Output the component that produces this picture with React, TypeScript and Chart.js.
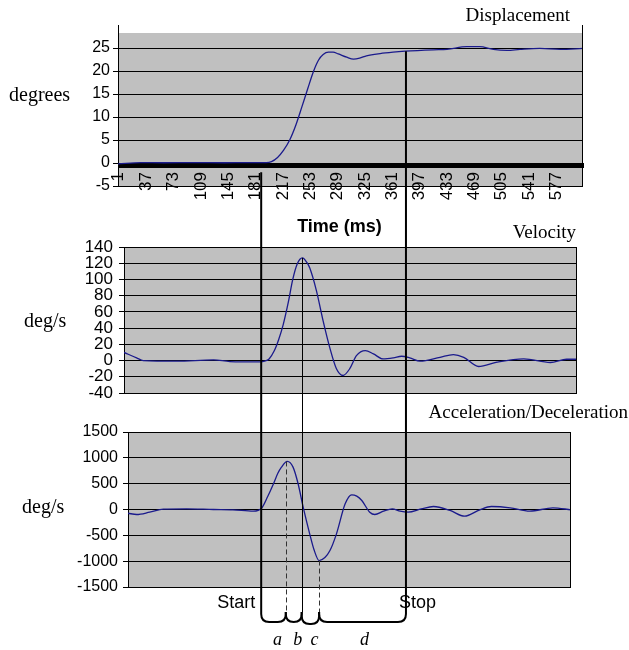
import React, { useEffect, useRef } from 'react';
import { Chart, registerables } from 'chart.js';
Chart.register(...registerables);

// ---------- data (x = sample index, ms) ----------
const dispT = [0, 30, 60, 100, 140, 170, 195, 202, 210, 218, 226, 234, 242, 250, 257, 264, 270, 277, 283, 290, 301, 310, 318, 327, 345, 362, 378, 415, 433, 459, 476, 494, 512, 529, 555, 582, 612];
const dispV = [-0.2, 0.1, 0.05, 0.1, 0.05, 0.1, 0.1, 0.3, 1.2, 2.8, 5.0, 8.2, 12.2, 16.3, 19.8, 22.4, 23.6, 24.1, 24.1, 23.7, 23.0, 22.6, 22.8, 23.3, 23.8, 24.1, 24.3, 24.6, 24.7, 25.3, 25.3, 24.7, 24.5, 24.7, 24.9, 24.7, 24.9];

const velT = [0, 17, 26, 71, 121, 143, 184, 190, 196, 203, 209, 215, 222, 228, 234, 241, 247, 251, 260, 269, 278, 287, 296, 305, 314, 326, 337, 350, 364, 375, 386, 400, 427, 445, 459, 479, 504, 540, 576, 598, 612];
const velV = [10, 3.3, 0, -0.8, 0.8, -1.2, -1.6, -0.8, 2, 12, 26, 44, 72, 100, 119, 126.5, 121, 114, 86, 49, 16, -10, -18.4, -10, 6, 12.2, 8.2, 2, 3.3, 5.3, 3.3, -0.8, 4, 7.3, 4, -7.3, -2, 2, -2.4, 1.6, 1.6];

const accT = [0, 12, 30, 49, 81, 118, 145, 173, 185, 193, 201, 207, 212, 220, 228, 235, 242, 251, 257, 264, 272, 279, 288, 300, 309, 316, 323, 334, 341, 353, 365, 376, 387, 405, 422, 445, 465, 486, 502, 528, 555, 587, 612];
const accV = [-72, -97, -52, 6, 13, 0, -6, -33, 33, 250, 498, 700, 820, 930, 820, 498, 45, -471, -780, -988, -930, -795, -471, 110, 285, 260, 174, -52, -97, -33, 13, -33, -52, 10, 58, -19, -130, -6, 58, 33, -33, 33, -6];

const X_MAX = 612;
const xLabels = [1, 37, 73, 109, 145, 181, 217, 253, 289, 325, 361, 397, 433, 469, 505, 541, 577];
const dispTicks = [-5, 0, 5, 10, 15, 20, 25];
const velTicks = [-40, -20, 0, 20, 40, 60, 80, 100, 120, 140];
const accTicks = [-1500, -1000, -500, 0, 500, 1000, 1500];

// event markers (sample index)
const EV_START = 184;
const EV_A = 218;
const EV_B = 240;
const EV_C = 264;
const EV_STOP = 384;
const segLabels = ['a', 'b', 'c', 'd'];

// ---------- helpers ----------
const W = 629;
const H = 650;
const GRAY = '#c0c0c0';
const LINE = '#1a1a8c';
const SANS = '"Liberation Sans", Arial, sans-serif';
const SERIF = '"Liberation Serif", "Times New Roman", serif';

const pts = (t: number[], v: number[]) => t.map((x, i) => ({ x, y: v[i] }));

type Txt = { t: string; x: number; y: number; font: string; align: CanvasTextAlign };

const bgPlugin = (topInset: number) => ({
  id: 'bg',
  beforeDraw(chart: any) {
    const { ctx, chartArea: a } = chart;
    ctx.save();
    ctx.fillStyle = GRAY;
    ctx.fillRect(a.left, a.top + topInset, a.right - a.left, a.bottom - a.top - topInset);
    ctx.restore();
  },
  afterDraw(chart: any) {
    const { ctx, chartArea: a } = chart;
    ctx.save();
    ctx.strokeStyle = '#000';
    ctx.lineWidth = 1;
    ctx.beginPath();
    ctx.moveTo(Math.round(a.right) - 0.5, a.top);
    ctx.lineTo(Math.round(a.right) - 0.5, a.bottom);
    ctx.stroke();
    ctx.restore();
  },
});

const textPlugin = (getTexts: (chart: any) => Txt[]) => ({
  id: 'texts',
  afterDraw(chart: any) {
    const ctx = chart.ctx;
    ctx.save();
    ctx.fillStyle = '#000';
    ctx.textBaseline = 'middle';
    for (const tx of getTexts(chart)) {
      ctx.font = tx.font;
      ctx.textAlign = tx.align;
      ctx.fillText(tx.t, tx.x, tx.y);
    }
    ctx.restore();
  },
});

const yAxis = (min: number, max: number, ticks: number[], width: number, size: number, padding: number) => ({
  type: 'linear',
  min,
  max,
  afterBuildTicks: (s: any) => {
    s.ticks = ticks.map((value) => ({ value }));
  },
  afterFit: (s: any) => {
    s.width = width;
  },
  grid: { color: '#000', lineWidth: 1, tickLength: 5, drawTicks: true },
  border: { display: true, color: '#000', width: 1 },
  ticks: {
    autoSkip: false,
    color: '#000',
    font: { family: SANS, size },
    padding,
    callback: (v: any) => String(v),
  },
});

const baseOpts = (padding: any) => ({
  responsive: false,
  animation: false as const,
  devicePixelRatio: 1,
  layout: { padding },
  plugins: { legend: { display: false }, tooltip: { enabled: false } },
  elements: { point: { radius: 0 } },
});

const lineDs = (t: number[], v: number[]) => ({
  data: pts(t, v),
  borderColor: LINE,
  borderWidth: 1.3,
  pointRadius: 0,
  fill: false,
  cubicInterpolationMode: 'monotone' as const,
});

export default function App() {
  const c1 = useRef<HTMLCanvasElement>(null);
  const c2 = useRef<HTMLCanvasElement>(null);
  const c3 = useRef<HTMLCanvasElement>(null);

  useEffect(() => {
    // ---- Displacement ----
    const top = new Chart(c1.current!, {
      type: 'line',
      data: { datasets: [lineDs(dispT, dispV)] },
      options: {
        ...baseOpts({ left: 0, right: W - 583, top: 25, bottom: H - 186 }),
        scales: {
          y: yAxis(-5, 30, dispTicks, 118, 16, 3),
          x: {
            type: 'linear',
            min: 0,
            max: X_MAX,
            position: { y: 0 },
            afterBuildTicks: (s: any) => {
              s.ticks = Array.from({ length: X_MAX + 1 }, (_, i) => ({ value: i }));
            },
            grid: { drawOnChartArea: false, drawTicks: true, tickLength: 4, color: '#000', lineWidth: 1 },
            border: { display: true, color: '#000', width: 1 },
            ticks: {
              autoSkip: false,
              minRotation: 90,
              maxRotation: 90,
              padding: 5,
              color: '#000',
              font: { family: SANS, size: 17 },
              callback: (v: any) => (xLabels.includes(Number(v)) ? String(v) : ''),
            },
          },
        },
      } as any,
      plugins: [
        bgPlugin(8),
        textPlugin((ch) => {
          const a = ch.chartArea;
          return [
            { t: 'Displacement', x: a.right - 13, y: a.top - 9, font: `19px ${SERIF}`, align: 'right' },
            { t: 'degrees', x: 9, y: 96, font: `20px ${SERIF}`, align: 'left' },
            { t: 'Time (ms)', x: (a.left + a.right) / 2 - 11, y: a.bottom + 41, font: `bold 18px ${SANS}`, align: 'center' },
          ];
        }),
      ],
    });

    // ---- Velocity ----
    const mid = new Chart(c2.current!, {
      type: 'line',
      data: { datasets: [lineDs(velT, velV)] },
      options: {
        ...baseOpts({ left: 0, right: W - 577, top: 247, bottom: H - 393 }),
        scales: {
          y: yAxis(-40, 140, velTicks, 124, 17, 6),
          x: { type: 'linear', min: 0, max: X_MAX, display: false },
        },
      } as any,
      plugins: [
        bgPlugin(0),
        textPlugin((ch) => {
          const a = ch.chartArea;
          return [
            { t: 'Velocity', x: a.right - 1, y: a.top - 14, font: `19px ${SERIF}`, align: 'right' },
            { t: 'deg/s', x: 24, y: 322, font: `20px ${SERIF}`, align: 'left' },
          ];
        }),
      ],
    });

    // ---- overlay drawn on top-most canvas ----
    const overlay = {
      id: 'overlay',
      afterDraw(chart: any) {
        const ctx = chart.ctx;
        const xs = chart.scales.x;
        const ys = chart.scales.y;
        const X = (s: number) => xs.getPixelForValue(s);
        const a = chart.chartArea;
        const brTop = a.bottom + 25;
        const brBot = a.bottom + 35;

        const xStart = X(EV_START);
        const xA = X(EV_A);
        const xB = X(EV_B);
        const xC = X(EV_C);
        const xStop = X(EV_STOP);

        const stopIdx = dispT.findIndex((t) => t >= 378);
        const yStartTop = top.scales.y.getPixelForValue(-2);
        const yStopTop = top.scales.y.getPixelForValue(dispV[stopIdx]);
        const yBTop = mid.scales.y.getPixelForValue(Math.max(...velV));
        const yATop = ys.getPixelForValue(Math.max(...accV));
        const yCTop = ys.getPixelForValue(Math.min(...accV));

        ctx.save();
        ctx.strokeStyle = '#000';
        ctx.lineCap = 'butt';

        // Start & Stop lines
        ctx.lineWidth = 2;
        ctx.beginPath();
        ctx.moveTo(xStart, yStartTop);
        ctx.lineTo(xStart, brTop);
        ctx.moveTo(xStop, yStopTop);
        ctx.lineTo(xStop, brTop);
        ctx.stroke();

        // b line
        ctx.lineWidth = 1;
        ctx.beginPath();
        ctx.moveTo(Math.round(xB) + 0.5, yBTop);
        ctx.lineTo(Math.round(xB) + 0.5, brTop);
        ctx.stroke();

        // dashed a / c
        ctx.strokeStyle = '#333';
        ctx.setLineDash([5, 3]);
        ctx.beginPath();
        ctx.moveTo(Math.round(xA) + 0.5, yATop);
        ctx.lineTo(Math.round(xA) + 0.5, brTop);
        ctx.moveTo(Math.round(xC) + 0.5, yCTop);
        ctx.lineTo(Math.round(xC) + 0.5, brTop);
        ctx.stroke();
        ctx.setLineDash([]);

        // braces
        ctx.strokeStyle = '#000';
        ctx.lineWidth = 2;
        const brace = (x1: number, x2: number, yb: number) => {
          const r = Math.min(8, (x2 - x1) / 2);
          ctx.beginPath();
          ctx.moveTo(x1, brTop);
          ctx.lineTo(x1, yb - r);
          ctx.quadraticCurveTo(x1, yb, x1 + r, yb);
          ctx.lineTo(x2 - r, yb);
          ctx.quadraticCurveTo(x2, yb, x2, yb - r);
          ctx.lineTo(x2, brTop);
          ctx.stroke();
        };
        const edges = [xStart, xA, xB, xC, xStop];
        for (let i = 0; i < 4; i++) brace(edges[i], edges[i + 1], i === 2 ? brBot + 2 : brBot);

        // texts
        ctx.fillStyle = '#000';
        ctx.textBaseline = 'middle';
        ctx.font = `18px ${SANS}`;
        ctx.textAlign = 'right';
        ctx.fillText('Start', xStart - 6, a.bottom + 16);
        ctx.textAlign = 'left';
        ctx.fillText('Stop', xStop - 7, a.bottom + 16);
        ctx.font = `italic 18px ${SERIF}`;
        ctx.textAlign = 'center';
        for (let i = 0; i < 4; i++) {
          ctx.fillText(segLabels[i], (edges[i] + edges[i + 1]) / 2 + (i < 3 ? 4 : 2), a.bottom + 53);
        }
        ctx.restore();
      },
    };

    // ---- Acceleration ----
    const bot = new Chart(c3.current!, {
      type: 'line',
      data: { datasets: [lineDs(accT, accV)] },
      options: {
        ...baseOpts({ left: 0, right: W - 571, top: 432, bottom: H - 587 }),
        scales: {
          y: yAxis(-1500, 1500, accTicks, 128, 16, 5),
          x: { type: 'linear', min: 0, max: X_MAX, display: false },
        },
      } as any,
      plugins: [
        bgPlugin(0),
        textPlugin((ch) => {
          const a = ch.chartArea;
          return [
            { t: 'Acceleration/Deceleration', x: a.right + 57, y: a.top - 19, font: `19px ${SERIF}`, align: 'right' },
            { t: 'deg/s', x: 22, y: 508, font: `20px ${SERIF}`, align: 'left' },
          ];
        }),
        overlay,
      ],
    });

    return () => {
      bot.destroy();
      mid.destroy();
      top.destroy();
    };
  }, []);

  const cs: React.CSSProperties = { position: 'absolute', left: 0, top: 0 };
  return (
    <div style={{ position: 'fixed', left: 0, top: 0, width: W, height: H, background: '#fff' }}>
      <canvas ref={c1} width={W} height={H} style={cs} />
      <canvas ref={c2} width={W} height={H} style={cs} />
      <canvas ref={c3} width={W} height={H} style={cs} />
    </div>
  );
}
